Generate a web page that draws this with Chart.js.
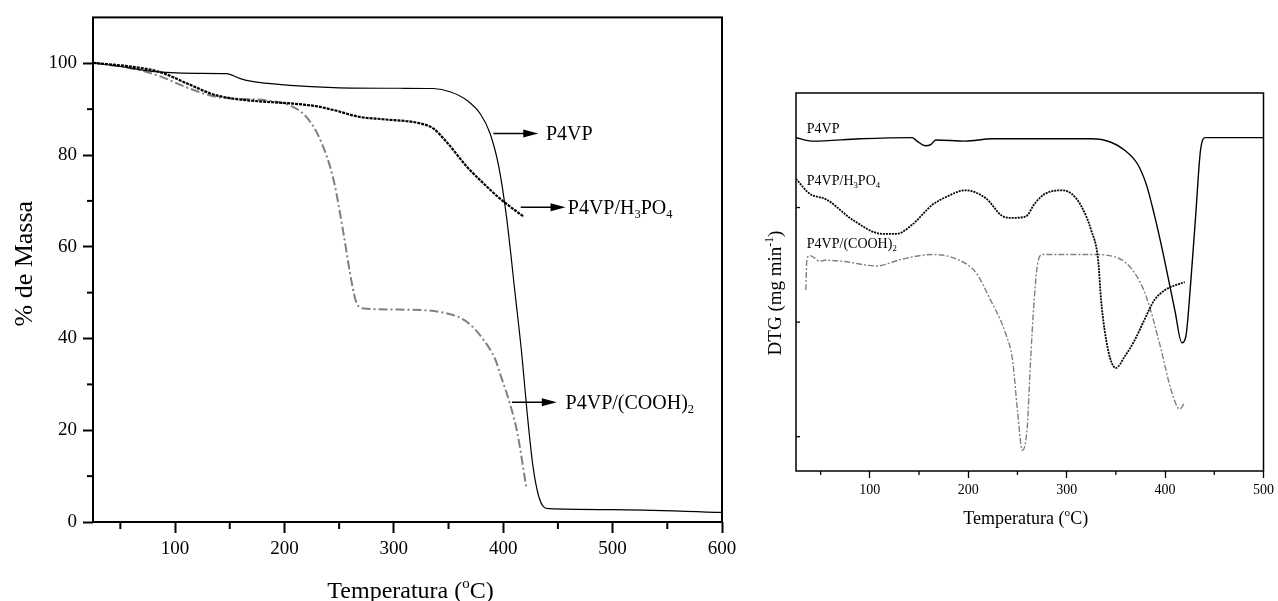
<!DOCTYPE html>
<html>
<head>
<meta charset="utf-8">
<script src="https://cdn.jsdelivr.net/npm/chart.js@4.4.1/dist/chart.umd.min.js"></script>
<style>
  body { margin: 0; background: #fff; }
  .box { position: absolute; top: 0; }
</style>
</head>
<body>
<div class="box" style="left:0"><canvas id="tga" width="745" height="601"></canvas></div>
<div class="box" style="left:760px"><canvas id="dtg" width="518" height="601"></canvas></div>
<script>
// TGA (left) - % mass vs temperature
const tgaP4vpT = [25, 50, 77, 92, 120, 147, 159, 169, 205, 245, 306, 336, 352, 367, 379, 388, 396, 403, 411, 417, 422, 427, 432, 437, 442, 500, 600];
const tgaP4vpM = [100.1, 99.3, 98.3, 98.0, 97.8, 97.75, 96.7, 96.1, 95.2, 94.7, 94.55, 94.5, 93.75, 91.9, 89.0, 84.7, 77.4, 66.5, 49.5, 36.5, 23.5, 12.5, 6.0, 3.3, 2.9, 2.7, 2.1];

const tgaH3po4T = [25, 62, 86, 111, 135, 153, 172, 208, 230, 245, 269, 290, 324, 336, 348, 367, 379, 397, 419];
const tgaH3po4M = [100.1, 99.2, 98.1, 95.6, 93.2, 92.3, 91.8, 91.2, 90.6, 89.8, 88.3, 87.8, 86.9, 85.8, 82.9, 77.4, 74.5, 70.5, 66.5];

const tgaCoohT = [25, 62, 86, 111, 135, 153, 184, 205, 220, 233, 245, 254, 260, 265, 271, 306, 348, 367, 382, 393, 397, 406, 413, 421];
const tgaCoohM = [100.1, 98.8, 97.2, 94.7, 92.8, 92.3, 91.9, 90.8, 88.3, 83.2, 74.5, 62.9, 54.2, 48.4, 46.6, 46.3, 45.5, 43.6, 39.7, 35.3, 32.4, 25.9, 19.3, 7.7];

// DTG (right) - arbitrary units, no labels on the axis
const dtgP4vpT = [25, 42, 90, 143, 148, 156, 162, 167, 197, 224, 325, 345, 359, 372, 381, 389, 398, 410, 417, 421, 426, 431, 436, 441, 500];
const dtgP4vpV = [-0.39, -0.42, -0.40, -0.39, -0.42, -0.46, -0.45, -0.41, -0.42, -0.40, -0.40, -0.43, -0.50, -0.62, -0.80, -1.06, -1.40, -1.90, -2.18, -2.13, -1.66, -1.08, -0.50, -0.39, -0.39];

const dtgH3po4T = [25, 39, 56, 83, 113, 127, 143, 163, 177, 197, 218, 234, 244, 258, 268, 278, 295, 305, 315, 325, 332, 335, 342, 350, 359, 369, 379, 389, 400, 420];
const dtgH3po4V = [-0.75, -0.88, -0.93, -1.11, -1.23, -1.23, -1.15, -0.98, -0.91, -0.85, -0.92, -1.07, -1.09, -1.08, -0.96, -0.88, -0.85, -0.88, -0.99, -1.20, -1.46, -1.81, -2.24, -2.40, -2.30, -2.16, -1.98, -1.81, -1.72, -1.65];

const dtgCoohT = [35, 36, 39, 44, 49, 54, 73, 107, 133, 164, 191, 208, 221, 238, 245, 250, 255, 260, 263, 267, 270, 275, 325, 352, 369, 381, 396, 406, 415, 420];
const dtgCoohV = [-1.72, -1.46, -1.42, -1.44, -1.47, -1.46, -1.47, -1.51, -1.45, -1.41, -1.46, -1.57, -1.78, -2.10, -2.33, -2.77, -3.12, -2.91, -2.39, -1.81, -1.52, -1.41, -1.41, -1.44, -1.57, -1.78, -2.24, -2.59, -2.76, -2.70];

// ticks
const tgaXMajor = [100, 200, 300, 400, 500, 600];
const tgaXMinor = [50, 150, 250, 350, 450, 550];
const tgaYMajor = [0, 20, 40, 60, 80, 100];
const tgaYMinor = [10, 30, 50, 70, 90];
const dtgXMajor = [100, 200, 300, 400, 500];
const dtgXMinor = [50, 150, 250, 350, 450];
const dtgYTicks = [-1, -2, -3];

const FONT = "'Liberation Serif', 'Times New Roman', serif";
Chart.defaults.font.family = FONT;
Chart.defaults.color = "#000";

const pts = (xs, ys) => xs.map((x, i) => ({ x, y: ys[i] }));

// draws text made of pieces, some of them sub/superscript. y = visual middle
function drawRich(ctx, parts, x, y, size, align) {
  const small = size * 0.62;
  const widths = parts.map(([t, m]) => {
    ctx.font = (m ? small : size) + "px " + FONT;
    return ctx.measureText(t).width;
  });
  const total = widths.reduce((a, b) => a + b, 0);
  let cx = align === "center" ? x - total / 2 : x;
  const base = y + size * 0.33;
  ctx.textAlign = "left";
  ctx.textBaseline = "alphabetic";
  ctx.fillStyle = "#000";
  parts.forEach(([t, m], i) => {
    ctx.font = (m ? small : size) + "px " + FONT;
    const dy = m === "sub" ? size * 0.22 : m === "sup" ? -size * 0.42 : 0;
    ctx.fillText(t, cx, base + dy);
    cx += widths[i];
  });
}

function arrow(ctx, x1, x2, y) {
  ctx.save();
  ctx.strokeStyle = "#000";
  ctx.fillStyle = "#000";
  ctx.lineWidth = 1.5;
  ctx.beginPath();
  ctx.moveTo(x1, y);
  ctx.lineTo(x2 - 12, y);
  ctx.stroke();
  ctx.beginPath();
  ctx.moveTo(x2, y);
  ctx.lineTo(x2 - 15, y - 4);
  ctx.lineTo(x2 - 15, y + 4);
  ctx.closePath();
  ctx.fill();
  ctx.restore();
}

// frame, minor ticks, axis titles and curve labels
function decor(cfg) {
  return {
    id: "decor",
    afterDraw(chart) {
      const { ctx, chartArea: a, scales } = chart;
      ctx.save();
      ctx.strokeStyle = "#000";
      ctx.lineWidth = cfg.frame;
      ctx.strokeRect(a.left, a.top, a.right - a.left, a.bottom - a.top);

      ctx.lineWidth = cfg.tickWidth;
      cfg.ticks.forEach(t => {
        const s = scales[t.axis];
        t.values.forEach(v => {
          const p = s.getPixelForValue(v);
          ctx.beginPath();
          if (t.axis === "x") {
            ctx.moveTo(p, a.bottom);
            ctx.lineTo(p, a.bottom + t.len);
          } else {
            ctx.moveTo(a.left, p);
            ctx.lineTo(a.left - t.len, p);
          }
          ctx.stroke();
        });
      });

      const mid = (a.left + a.right) / 2;
      drawRich(ctx, cfg.xTitle, mid + cfg.xTitleDx, a.bottom + cfg.xTitleDy, cfg.titleSize, "center");
      ctx.save();
      ctx.translate(a.left + cfg.yTitleDx, (a.top + a.bottom) / 2 + cfg.yTitleDy);
      ctx.rotate(-Math.PI / 2);
      drawRich(ctx, cfg.yTitle, 0, 0, cfg.yTitleSize, "center");
      ctx.restore();

      cfg.notes.forEach(n => {
        const y = scales.y.getPixelForValue(n.at);
        if (n.from !== undefined) {
          arrow(ctx, scales.x.getPixelForValue(n.from), scales.x.getPixelForValue(n.to), y);
        }
        drawRich(ctx, n.parts, scales.x.getPixelForValue(n.textAt), y, cfg.noteSize, "left");
      });
      ctx.restore();
    }
  };
}

function fixTicks(list) {
  return s => { s.ticks = list.map(v => ({ value: v })); };
}

const tempTitle = [["Temperatura (", ""], ["o", "sup"], ["C)", ""]];

// ---- left chart ----
new Chart(document.getElementById("tga"), {
  type: "line",
  data: {
    datasets: [
      { data: pts(tgaP4vpT, tgaP4vpM), borderColor: "#000", borderWidth: 1.2 },
      { data: pts(tgaH3po4T, tgaH3po4M), borderColor: "#000", borderWidth: 2.2, borderDash: [3, 1] },
      { data: pts(tgaCoohT, tgaCoohM), borderColor: "#808080", borderWidth: 2, borderDash: [9, 3, 2, 3] }
    ]
  },
  options: {
    responsive: false,
    animation: false,
    layout: { padding: { left: 0, top: 17, right: 23, bottom: 0 } },
    elements: { point: { radius: 0 }, line: { cubicInterpolationMode: "monotone" } },
    plugins: { legend: { display: false }, tooltip: { enabled: false } },
    scales: {
      x: {
        type: "linear", min: 25, max: 600,
        afterBuildTicks: fixTicks(tgaXMajor),
        afterFit: s => { s.height = 79; },
        border: { display: false },
        grid: { drawOnChartArea: false, tickLength: 11, tickWidth: 2, tickColor: "#000" },
        ticks: { font: { size: 19 }, padding: 5, maxRotation: 0 }
      },
      y: {
        min: 0, max: 110,
        afterBuildTicks: fixTicks(tgaYMajor),
        afterFit: s => { s.width = 93; },
        border: { display: false },
        grid: { drawOnChartArea: false, tickLength: 10, tickWidth: 2, tickColor: "#000" },
        ticks: { font: { size: 19 }, padding: 6 }
      }
    }
  },
  plugins: [decor({
    frame: 2, tickWidth: 2,
    ticks: [{ axis: "x", values: tgaXMinor, len: 7 }, { axis: "y", values: tgaYMinor, len: 6 }],
    xTitle: tempTitle, xTitleDx: 3, xTitleDy: 68, titleSize: 24,
    yTitle: [["% de Massa", ""]], yTitleDx: -70, yTitleDy: -6, yTitleSize: 26,
    noteSize: 20,
    notes: [
      { parts: [["P4VP", ""]], from: 391, to: 432, at: 84.7, textAt: 439 },
      { parts: [["P4VP/H", ""], ["3", "sub"], ["PO", ""], ["4", "sub"]], from: 416, to: 457, at: 68.6, textAt: 459 },
      { parts: [["P4VP/(COOH)", ""], ["2", "sub"]], from: 408, to: 449, at: 26.1, textAt: 457 }
    ]
  })]
});

// ---- right chart ----
new Chart(document.getElementById("dtg"), {
  type: "line",
  data: {
    datasets: [
      { data: pts(dtgP4vpT, dtgP4vpV), borderColor: "#000", borderWidth: 1.4 },
      { data: pts(dtgH3po4T, dtgH3po4V), borderColor: "#000", borderWidth: 1.8, borderDash: [2, 1] },
      { data: pts(dtgCoohT, dtgCoohV), borderColor: "#808080", borderWidth: 1.4, borderDash: [6, 2, 2, 2] }
    ]
  },
  options: {
    responsive: false,
    animation: false,
    layout: { padding: { left: 0, top: 93, right: 12, bottom: 0 } },
    elements: { point: { radius: 0 }, line: { cubicInterpolationMode: "monotone" } },
    plugins: { legend: { display: false }, tooltip: { enabled: false } },
    scales: {
      x: {
        type: "linear", min: 25, max: 500,
        afterBuildTicks: fixTicks(dtgXMajor),
        afterFit: s => { s.height = 130; },
        border: { display: false },
        grid: { drawOnChartArea: false, tickLength: 7, tickWidth: 1.3, tickColor: "#000" },
        ticks: { font: { size: 14 }, padding: 4, maxRotation: 0 }
      },
      y: {
        min: -3.3, max: 0,
        afterFit: s => { s.width = 36; },
        border: { display: false },
        grid: { display: false },
        ticks: { display: false }
      }
    }
  },
  plugins: [decor({
    frame: 1.5, tickWidth: 1.3,
    ticks: [{ axis: "x", values: dtgXMinor, len: 4 }, { axis: "y", values: dtgYTicks, len: -4 }],
    xTitle: tempTitle, xTitleDx: -4, xTitleDy: 47, titleSize: 18,
    yTitle: [["DTG (mg min", ""], ["-1", "sup"], [")", ""]], yTitleDx: -21, yTitleDy: 11, yTitleSize: 19,
    noteSize: 14,
    notes: [
      { parts: [["P4VP", ""]], at: -0.31, textAt: 36 },
      { parts: [["P4VP/H", ""], ["3", "sub"], ["PO", ""], ["4", "sub"]], at: -0.76, textAt: 36 },
      { parts: [["P4VP/(COOH)", ""], ["2", "sub"]], at: -1.31, textAt: 36 }
    ]
  })]
});
</script>
</body>
</html>
